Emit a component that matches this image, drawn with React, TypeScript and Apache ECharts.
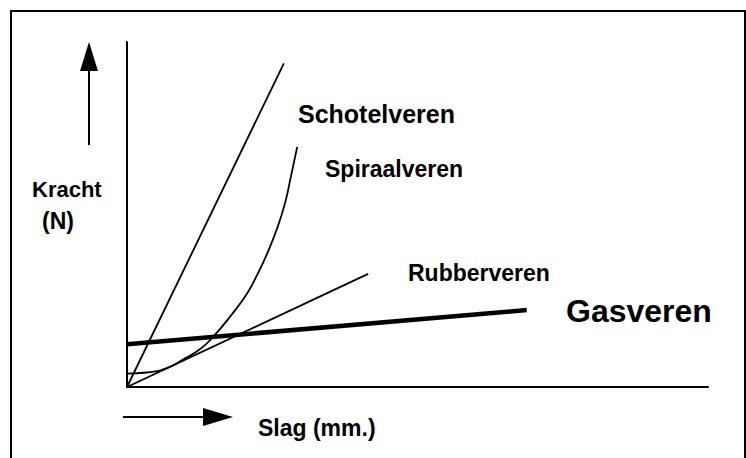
import React, { useEffect, useRef } from "react";
import * as echarts from "echarts";

// Data in arbitrary units (x: stroke 0..100, y: force 0..100)
const schotelLine: number[][] = [[0, 0], [27.0, 93.8]];
const spiraalCurve: number[][] = [
  [0, 3.9], [3.4, 4.2], [6.9, 5.5], [9.5, 7.8], [12.6, 11.0], [14.8, 14.5],
  [17.7, 20.3], [20.7, 27.2], [22.4, 32.5], [24.1, 38.6], [25.8, 45.8],
  [27.2, 53.3], [28.2, 60.9], [29.3, 69.6],
];
const rubberLine: number[][] = [[0, 0], [41.5, 32.8]];
const gasLine: number[][] = [[0, 12.4], [68.8, 22.3]];

const labels = [
  { text: "Kracht", x: 32, y: 189, size: 22 },
  { text: "(N)", x: 42, y: 221, size: 23 },
  { text: "Schotelveren", x: 298, y: 114, size: 25 },
  { text: "Spiraalveren", x: 325, y: 169, size: 23 },
  { text: "Rubberveren", x: 408, y: 273, size: 23 },
  { text: "Gasveren", x: 566, y: 311, size: 32 },
  { text: "Slag (mm.)", x: 258, y: 428, size: 23 },
];

export default function App() {
  const ref = useRef<HTMLDivElement>(null);
  useEffect(() => {
    if (!ref.current) return;
    const chart = echarts.init(ref.current, undefined, { renderer: "svg" });
    const axisCommon = {
      type: "value" as const,
      min: 0,
      max: 100,
      axisLine: { show: true, lineStyle: { color: "#000", width: 2 } },
      axisTick: { show: false },
      axisLabel: { show: false },
      splitLine: { show: false },
    };
    const lineSeries = (name: string, data: number[][], width: number, smooth: boolean | number = false) => ({
      name,
      type: "line" as const,
      data,
      showSymbol: false,
      smooth,
      lineStyle: { color: "#000", width },
      silent: true,
    });
    chart.setOption({
      animation: false,
      backgroundColor: "#fff",
      grid: { left: 127, right: 38, top: 42, bottom: 71 },
      xAxis: axisCommon,
      yAxis: axisCommon,
      series: [
        lineSeries("Schotelveren", schotelLine, 1.8),
        lineSeries("Spiraalveren", spiraalCurve, 1.8, 0.5),
        lineSeries("Rubberveren", rubberLine, 1.8),
        lineSeries("Gasveren", gasLine, 4.5),
      ],
      graphic: [
        {
          type: "rect",
          shape: { x: 11, y: 11, width: 734, height: 470 },
          style: { fill: "none", stroke: "#000", lineWidth: 2 },
          silent: true,
        },
        {
          type: "line",
          shape: { x1: 89, y1: 145, x2: 89, y2: 68 },
          style: { stroke: "#000", lineWidth: 2 },
        },
        {
          type: "polygon",
          shape: { points: [[89, 42], [80, 71], [98, 71]] },
          style: { fill: "#000" },
        },
        {
          type: "line",
          shape: { x1: 123, y1: 417, x2: 206, y2: 417 },
          style: { stroke: "#000", lineWidth: 2 },
        },
        {
          type: "polygon",
          shape: { points: [[233, 417], [203, 408], [203, 426]] },
          style: { fill: "#000" },
        },
        ...labels.map((l) => ({
          type: "text",
          x: l.x,
          y: l.y,
          style: {
            text: l.text,
            fill: "#000",
            font: `bold ${l.size}px "Liberation Sans", Arial, sans-serif`,
            align: "left",
            verticalAlign: "middle",
          },
        })),
      ],
    });
    return () => chart.dispose();
  }, []);
  return (
    <div
      ref={ref}
      style={{ position: "fixed", left: 0, top: 0, width: 746, height: 458, background: "#fff" }}
    />
  );
}
